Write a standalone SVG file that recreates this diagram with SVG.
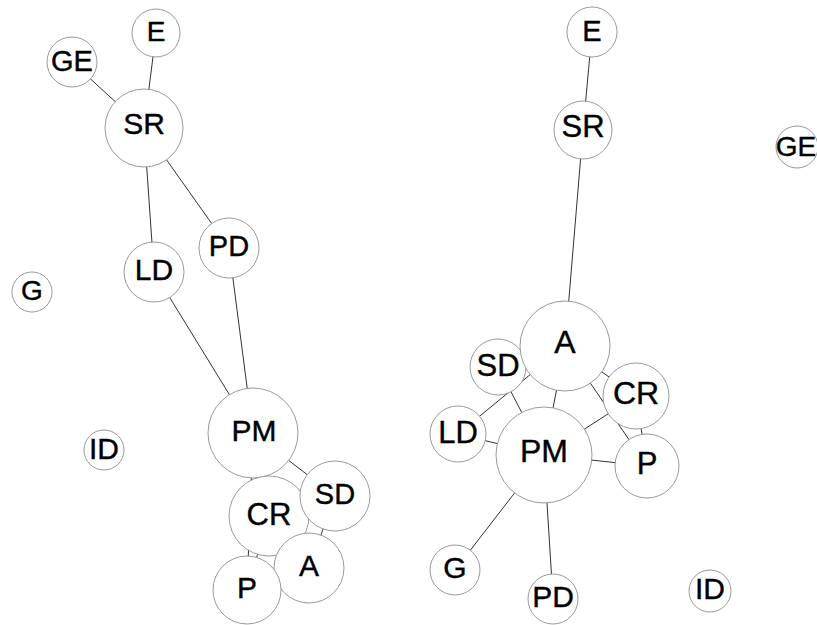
<svg xmlns="http://www.w3.org/2000/svg" width="817" height="625" viewBox="0 0 817 625">
<style>
.node circle{fill:#fff;stroke:#999;stroke-width:1}
.node text{font-family:"Liberation Sans",Arial,sans-serif;text-anchor:middle;fill:#000;stroke:#000;stroke-width:0.4}
.links line{stroke:#333;stroke-width:1}
</style>
<rect width="817" height="625" fill="#fff"/>
<g class="links" id="links-left">
<line x1="72" y1="62" x2="144" y2="128"/>
<line x1="156" y1="33" x2="144" y2="128"/>
<line x1="144" y1="128" x2="154" y2="272"/>
<line x1="144" y1="128" x2="229" y2="248"/>
<line x1="154" y1="272" x2="253" y2="433"/>
<line x1="229" y1="248" x2="253" y2="433"/>
<line x1="253" y1="433" x2="335" y2="496"/>
<line x1="253" y1="433" x2="269" y2="516"/>
<line x1="253" y1="433" x2="247" y2="590"/>
<line x1="335" y1="496" x2="309" y2="568"/>
<line x1="269" y1="516" x2="247" y2="590"/>
</g>
<g class="links" id="links-right">
<line x1="592" y1="32" x2="583" y2="130"/>
<line x1="583" y1="130" x2="565" y2="346"/>
<line x1="565" y1="346" x2="458" y2="434"/>
<line x1="565" y1="346" x2="544" y2="455"/>
<line x1="565" y1="346" x2="636" y2="396"/>
<line x1="565" y1="346" x2="647" y2="466"/>
<line x1="498" y1="367" x2="544" y2="455"/>
<line x1="458" y1="434" x2="544" y2="455"/>
<line x1="636" y1="396" x2="544" y2="455"/>
<line x1="636" y1="396" x2="647" y2="466"/>
<line x1="544" y1="455" x2="647" y2="466"/>
<line x1="544" y1="455" x2="455" y2="570"/>
<line x1="544" y1="455" x2="553" y2="599"/>
</g>
<g class="node" id="L-E"><circle cx="156" cy="33" r="24"/><text x="156" y="41" font-size="28">E</text></g>
<g class="node" id="L-GE"><circle cx="72" cy="62" r="25"/><text x="72" y="71" font-size="29">GE</text></g>
<g class="node" id="L-SR"><circle cx="144" cy="128" r="39"/><text x="144" y="134" font-size="30">SR</text></g>
<g class="node" id="L-LD"><circle cx="154" cy="272" r="30"/><text x="154" y="280" font-size="30">LD</text></g>
<g class="node" id="L-PD"><circle cx="229" cy="248" r="30"/><text x="229" y="256" font-size="29">PD</text></g>
<g class="node" id="L-G"><circle cx="32" cy="292" r="20"/><text x="32" y="300" font-size="28">G</text></g>
<g class="node" id="L-ID"><circle cx="104" cy="450" r="20"/><text x="104" y="459" font-size="30">ID</text></g>
<g class="node" id="L-PM"><circle cx="253" cy="433" r="45"/><text x="254" y="441" font-size="30">PM</text></g>
<g class="node" id="L-CR"><circle cx="269" cy="516" r="40"/><text x="269" y="525" font-size="31">CR</text></g>
<g class="node" id="L-SD"><circle cx="335" cy="496" r="35"/><text x="335" y="504" font-size="29">SD</text></g>
<g class="node" id="L-A"><circle cx="309" cy="568" r="35"/><text x="309" y="576" font-size="30">A</text></g>
<g class="node" id="L-P"><circle cx="247" cy="590" r="34"/><text x="247" y="598" font-size="30">P</text></g>
<g class="node" id="R-E"><circle cx="592" cy="32" r="25"/><text x="592" y="41" font-size="29">E</text></g>
<g class="node" id="R-SR"><circle cx="583" cy="130" r="29"/><text x="583" y="137" font-size="31">SR</text></g>
<g class="node" id="R-GE"><circle cx="797" cy="147" r="21"/><text x="796" y="156" font-size="28">GE</text></g>
<g class="node" id="R-SD"><circle cx="498" cy="367" r="28"/><text x="498" y="376" font-size="31">SD</text></g>
<g class="node" id="R-A"><circle cx="565" cy="346" r="45"/><text x="565" y="353" font-size="32">A</text></g>
<g class="node" id="R-CR"><circle cx="636" cy="396" r="33"/><text x="636" y="404" font-size="32">CR</text></g>
<g class="node" id="R-LD"><circle cx="458" cy="434" r="28"/><text x="458" y="443" font-size="31">LD</text></g>
<g class="node" id="R-PM"><circle cx="544" cy="455" r="48"/><text x="544" y="462" font-size="32">PM</text></g>
<g class="node" id="R-P"><circle cx="647" cy="466" r="32"/><text x="647" y="474" font-size="31">P</text></g>
<g class="node" id="R-G"><circle cx="455" cy="570" r="25"/><text x="455" y="578" font-size="30">G</text></g>
<g class="node" id="R-PD"><circle cx="553" cy="599" r="25"/><text x="553" y="607" font-size="30">PD</text></g>
<g class="node" id="R-ID"><circle cx="710" cy="591" r="21"/><text x="710" y="599" font-size="30">ID</text></g>
</svg>
